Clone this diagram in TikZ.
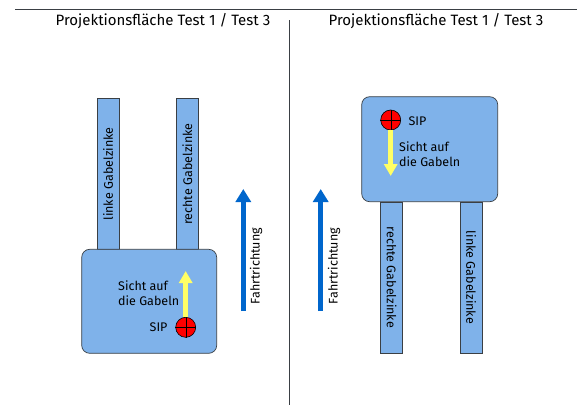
\documentclass[tikz,border=0pt]{standalone}
\usepackage{fontspec}
\setmainfont{Fira Sans}
\usetikzlibrary{arrows.meta,positioning}
\definecolor{plate}{HTML}{7FB2EA}
\definecolor{outline}{HTML}{3A3F44}
\definecolor{drive}{HTML}{0066CC}
\definecolor{view}{HTML}{FFFF66}
\definecolor{sipred}{HTML}{FF0000}
\tikzset{>=Latex,
  every node/.style={font=\fontsize{12.5}{14.5}\selectfont},
  title/.style={font=\fontsize{15}{17}\selectfont},
  fork/.style={draw=outline,fill=plate,line width=.7pt,minimum width=151pt,minimum height=22pt,inner sep=0pt},
  body/.style={draw=outline,fill=plate,line width=.7pt,rounded corners=8pt,minimum width=135pt,minimum height=104pt},
  sip/.style={circle,draw=black,fill=sipred,line width=.6pt,minimum size=20pt,inner sep=0pt},
  drivearrow/.style={draw=drive,line width=4.5pt,-{Triangle[width=15pt,length=13pt]}},
  viewarrow/.style={draw=view,line width=5pt,-{Triangle[width=13pt,length=12pt]}},
  sidelabel/.style={rotate=90}}
\begin{document}
\begin{tikzpicture}[x=1pt,y=-1pt]
\useasboundingbox (0,0) rectangle (588,413);
% frame lines
\draw[outline,line width=.8pt] (15,9)--(577,9);
\draw[outline,line width=.8pt] (289,20)--(289,405);
\node[title] (titleL) at (163,21) {Projektionsfläche Test 1 / Test 3};
\node[title] (titleR) at (436,21) {Projektionsfläche Test 1 / Test 3};
% left: view from the back
\node[fork,rotate=90] (linkeL) at (108,174) {linke Gabelzinke};
\node[fork,rotate=90] (rechteL) at (187.2,174) {rechte Gabelzinke};
\node[body] (bodyL) at (149.2,301.3) {};
\node[sip] (sipL) at (185.7,327.3) {};
\draw (sipL.north)--(sipL.south) (sipL.west)--(sipL.east);
\coordinate (viewL) at (185.7,271);
\draw[viewarrow] (sipL.north) -- (viewL);
\node[anchor=east] (sipLtext) at (171,327) {SIP};
\node[anchor=west,align=left,inner sep=0pt] (viewLtext) at (118,293) {Sicht auf\\die Gabeln};
% driving direction
\coordinate (driveLa) at (243.3,311);
\coordinate (driveLb) at (243.3,189);
\draw[drivearrow] (driveLa) -- (driveLb);
\node[sidelabel] (driveLtext) at (256,266) {Fahrtrichtung};
\coordinate (driveRa) at (320.7,311);
\coordinate (driveRb) at (320.7,189);
\draw[drivearrow] (driveRa) -- (driveRb);
\node[sidelabel] (driveRtext) at (334,266) {Fahrtrichtung};
% right: view from the front
\node[fork,rotate=-90] (rechteR) at (391.7,277.5) {rechte Gabelzinke};
\node[fork,rotate=-90] (linkeR) at (471.2,277.5) {linke Gabelzinke};
\node[body,minimum width=136pt,minimum height=105pt] (bodyR) at (429.7,149.2) {};
\node[sip] (sipR) at (390.7,120) {};
\draw (sipR.north)--(sipR.south) (sipR.west)--(sipR.east);
\coordinate (viewR) at (390.7,176);
\draw[viewarrow] (sipR.south) -- (viewR);
\node[anchor=west] (sipRtext) at (405,121) {SIP};
\node[anchor=west,align=left,inner sep=0pt] (viewRtext) at (399,154) {Sicht auf\\die Gabeln};
\end{tikzpicture}
\end{document}
